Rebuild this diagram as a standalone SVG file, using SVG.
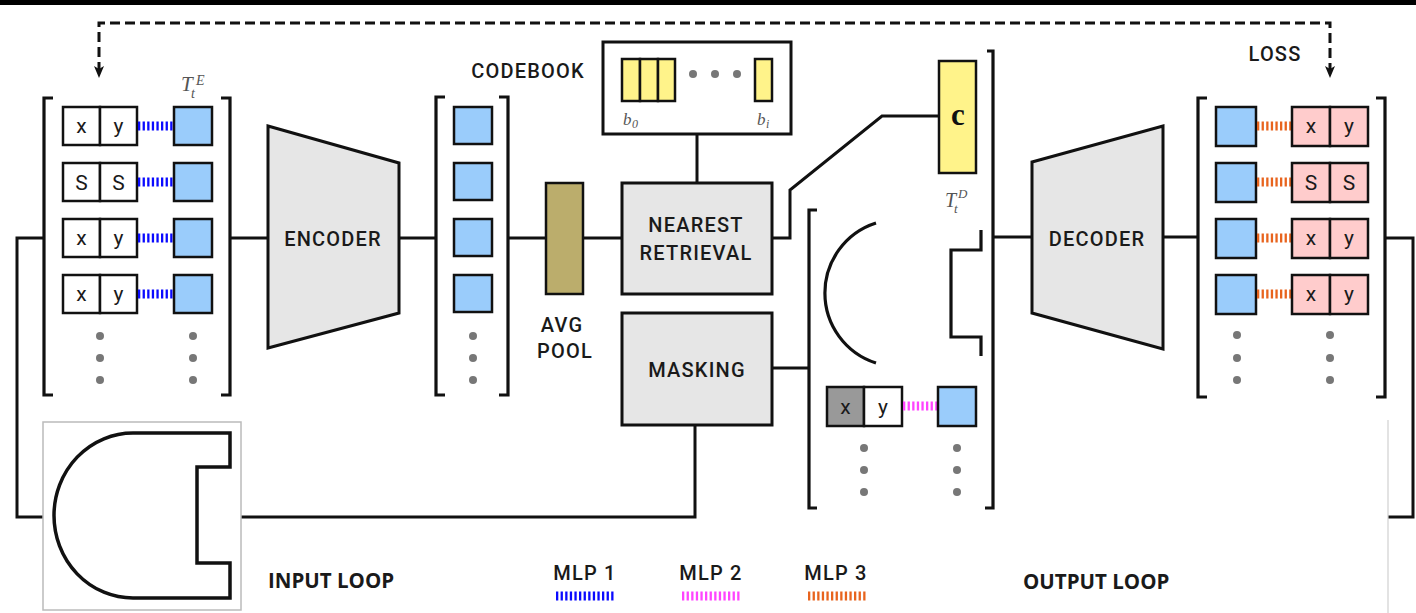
<svg xmlns="http://www.w3.org/2000/svg" width="1416" height="613" viewBox="0 0 1416 613">
<style>
.ln{fill:none;stroke:#111;stroke-width:3;stroke-linejoin:miter}
.br{fill:none;stroke:#111;stroke-width:3.2}
.blk{fill:#e6e6e6;stroke:#111;stroke-width:3}
.blue{fill:#9accfb;stroke:#111;stroke-width:2.5}
.pink{fill:#ffcccc;stroke:#111;stroke-width:2.5}
.wh{fill:#fff;stroke:#111;stroke-width:2.5}
.gr{fill:#999;stroke:#111;stroke-width:2.5}
.yel{fill:#fff38a;stroke:#111;stroke-width:2.5}
.dot{fill:#777}
.lbl{font-family:Roboto,"Liberation Sans",sans-serif;font-weight:500;font-size:20px;fill:#1a1a1a;text-anchor:middle;letter-spacing:1.2px}
.cell{font-family:Roboto,"Liberation Sans",sans-serif;font-size:21px;fill:#1a1a1a;text-anchor:middle}
.big{font-family:"Open Sans","Liberation Sans",sans-serif;font-weight:bold;font-size:20.5px;fill:#1a1a1a}
.math{font-family:"Liberation Serif",serif;font-style:italic;fill:#555}
.m1{stroke:#0a0aff;stroke-width:9;stroke-dasharray:2.3 2.3;fill:none}
.m2{stroke:#ff44ff;stroke-width:9;stroke-dasharray:2.3 2.3;fill:none}
.m3{stroke:#e8641e;stroke-width:9;stroke-dasharray:2.3 2.3;fill:none}
.dash{fill:none;stroke:#111;stroke-width:3;stroke-dasharray:10 5}
</style>
<defs>
<marker id="ah" viewBox="0 0 12 10" refX="6" refY="5" markerWidth="12" markerHeight="10" markerUnits="userSpaceOnUse" orient="auto-start-reverse">
<path d="M0,0 L12,5 L0,10 L3,5 Z" fill="#111"/>
</marker>
</defs>
<rect x="0" y="0" width="1416" height="5" fill="#000"/>

<g id="connectors">
<path class="dash" d="M99 72 V23 H1330 V72" marker-start="url(#ah)" marker-end="url(#ah)"/>
<path class="ln" d="M44 238 H17 V517 H43"/>
<path class="ln" d="M241 517 H695 V425"/>
<path class="ln" d="M230 238 H268"/>
<path class="ln" d="M399 238 H436"/>
<path class="ln" d="M508 238 H546"/>
<path class="ln" d="M583 238 H622"/>
<path class="ln" d="M697 134 V183"/>
<path class="ln" d="M772 238 H790 V190 L882 116 H939"/>
<path class="ln" d="M772 368 H809"/>
<path class="ln" d="M993 237 H1032"/>
<path class="ln" d="M1163 237 H1198"/>
<path class="ln" d="M1385 238 H1413 V517 H1388"/>
<line x1="1388" y1="420" x2="1388" y2="613" stroke="#d0d0d0" stroke-width="1.2"/>
</g>

<g id="input-tokens">
<path class="br" d="M53 98 H44 V395 H53"/>
<path class="br" d="M221 98 H230 V395 H221"/>
<g>
<rect class="wh" x="63" y="107" width="37" height="38"/><rect class="wh" x="100" y="107" width="37" height="38"/>
<text class="cell" x="81.5" y="133">x</text><text class="cell" x="118.5" y="133">y</text>
<line class="m1" x1="138" y1="126" x2="174" y2="126"/>
<rect class="blue" x="174" y="107" width="38" height="38"/>
</g>
<g>
<rect class="wh" x="63" y="163" width="37" height="38"/><rect class="wh" x="100" y="163" width="37" height="38"/>
<text class="cell" x="81.5" y="190">S</text><text class="cell" x="118.5" y="190">S</text>
<line class="m1" x1="138" y1="182" x2="174" y2="182"/>
<rect class="blue" x="174" y="163" width="38" height="38"/>
</g>
<g>
<rect class="wh" x="63" y="219" width="37" height="38"/><rect class="wh" x="100" y="219" width="37" height="38"/>
<text class="cell" x="81.5" y="245">x</text><text class="cell" x="118.5" y="245">y</text>
<line class="m1" x1="138" y1="238" x2="174" y2="238"/>
<rect class="blue" x="174" y="219" width="38" height="38"/>
</g>
<g>
<rect class="wh" x="63" y="275" width="37" height="38"/><rect class="wh" x="100" y="275" width="37" height="38"/>
<text class="cell" x="81.5" y="301">x</text><text class="cell" x="118.5" y="301">y</text>
<line class="m1" x1="138" y1="294" x2="174" y2="294"/>
<rect class="blue" x="174" y="275" width="38" height="38"/>
</g>
<circle class="dot" cx="100" cy="336" r="4"/><circle class="dot" cx="100" cy="358" r="4"/><circle class="dot" cx="100" cy="380" r="4"/>
<circle class="dot" cx="193" cy="336" r="4"/><circle class="dot" cx="193" cy="358" r="4"/><circle class="dot" cx="193" cy="380" r="4"/>
<text class="math" x="181" y="91" font-size="21">T</text>
<text class="math" x="196" y="85" font-size="14">E</text>
<text class="math" x="191" y="98" font-size="14">t</text>
</g>

<g id="input-loop">
<rect x="43" y="422" width="198" height="188" fill="#fff" stroke="#bbb" stroke-width="1.5"/>
<path d="M133 433 H230 V467 H197 V563 H230 V598 H133 A79 82.5 0 0 1 133 433 Z" fill="none" stroke="#111" stroke-width="3.5"/>
</g>

<g id="encoder">
<path class="blk" d="M268 126 L399 163 L399 313 L268 348 Z"/>
<text class="lbl" x="333" y="246">ENCODER</text>
</g>

<g id="encoded-tokens">
<path class="br" d="M445 97 H436 V395 H445"/>
<path class="br" d="M499 97 H508 V395 H499"/>
<rect class="blue" x="454" y="107" width="38" height="37"/>
<rect class="blue" x="454" y="163" width="38" height="37"/>
<rect class="blue" x="454" y="219" width="38" height="37"/>
<rect class="blue" x="454" y="275" width="38" height="37"/>
<circle class="dot" cx="473" cy="336" r="4"/><circle class="dot" cx="473" cy="358" r="4"/><circle class="dot" cx="473" cy="380" r="4"/>
</g>

<g id="avg-pool">
<rect x="546" y="183" width="37" height="111" fill="#bbad6c" stroke="#111" stroke-width="2.5"/>
<text class="lbl" x="562" y="332" letter-spacing="0.5">AVG</text>
<text class="lbl" x="565" y="358" letter-spacing="0.5">POOL</text>
</g>

<g id="codebook">
<rect x="603" y="42" width="188" height="92" fill="#fff" stroke="#111" stroke-width="3"/>
<rect class="yel" x="622" y="59" width="18" height="42"/>
<rect class="yel" x="640" y="59" width="18" height="42"/>
<rect class="yel" x="658" y="59" width="17" height="42"/>
<circle class="dot" cx="693" cy="74" r="4"/><circle class="dot" cx="715" cy="74" r="4"/><circle class="dot" cx="737" cy="74" r="4"/>
<rect class="yel" x="755" y="59" width="17" height="42"/>
<text class="math" x="623" y="125" font-size="17">b</text><text class="math" x="632" y="128" font-size="12">0</text>
<text class="math" x="757" y="125" font-size="17">b</text><text class="math" x="766" y="128" font-size="12">i</text>
<text class="lbl" x="528" y="78" letter-spacing="0.8">CODEBOOK</text>
</g>

<g id="nearest-retrieval">
<rect class="blk" x="622" y="183" width="150" height="111"/>
<text class="lbl" x="696" y="232">NEAREST</text>
<text class="lbl" x="696" y="260">RETRIEVAL</text>
</g>

<g id="masking">
<rect class="blk" x="622" y="313" width="150" height="112"/>
<text class="lbl" x="697" y="377">MASKING</text>
</g>

<g id="code-token">
<rect class="yel" x="939" y="61" width="37" height="112"/>
<text x="958" y="125" font-family="'Liberation Serif',serif" font-weight="bold" font-size="31" text-anchor="middle" fill="#111">c</text>
<text class="math" x="945" y="207" font-size="20" fill="#777">T</text>
<text class="math" x="958" y="198" font-size="13" fill="#777">D</text>
<text class="math" x="954" y="213" font-size="13" fill="#777">t</text>
</g>

<g id="masked-tokens">
<path class="br" d="M817 210 H809 V508 H817"/>
<path class="br" d="M987 51 H993 V508 H985"/>
<path d="M876 223 A73.5 73.5 0 0 0 876 363" fill="none" stroke="#111" stroke-width="3.2"/>
<path d="M981 230 V250 H951 V337 H981 V356" fill="none" stroke="#111" stroke-width="3.2"/>
<rect class="gr" x="827" y="387" width="37" height="39"/><rect class="wh" x="864" y="387" width="38" height="39"/>
<text class="cell" x="845.5" y="414">x</text><text class="cell" x="883" y="414">y</text>
<line class="m2" x1="903" y1="406" x2="938" y2="406"/>
<rect class="blue" x="938" y="387" width="38" height="39"/>
<circle class="dot" cx="864" cy="448" r="4"/><circle class="dot" cx="864" cy="470" r="4"/><circle class="dot" cx="864" cy="492" r="4"/>
<circle class="dot" cx="957" cy="448" r="4"/><circle class="dot" cx="957" cy="470" r="4"/><circle class="dot" cx="957" cy="492" r="4"/>
</g>

<g id="decoder">
<path class="blk" d="M1032 162 L1163 126 L1163 349 L1032 313 Z"/>
<text class="lbl" x="1097" y="246">DECODER</text>
</g>

<g id="output-tokens">
<path class="br" d="M1207 98 H1198 V397 H1207"/>
<path class="br" d="M1376 98 H1385 V397 H1376"/>
<g>
<rect class="blue" x="1216" y="107" width="40" height="39"/>
<line class="m3" x1="1257" y1="126" x2="1292" y2="126"/>
<rect class="pink" x="1292" y="107" width="38" height="39"/><rect class="pink" x="1330" y="107" width="38" height="39"/>
<text class="cell" x="1311" y="133">x</text><text class="cell" x="1349" y="133">y</text>
</g>
<g>
<rect class="blue" x="1216" y="163" width="40" height="39"/>
<line class="m3" x1="1257" y1="182" x2="1292" y2="182"/>
<rect class="pink" x="1292" y="163" width="38" height="39"/><rect class="pink" x="1330" y="163" width="38" height="39"/>
<text class="cell" x="1311" y="190">S</text><text class="cell" x="1349" y="190">S</text>
</g>
<g>
<rect class="blue" x="1216" y="219" width="40" height="39"/>
<line class="m3" x1="1257" y1="238" x2="1292" y2="238"/>
<rect class="pink" x="1292" y="219" width="38" height="39"/><rect class="pink" x="1330" y="219" width="38" height="39"/>
<text class="cell" x="1311" y="245">x</text><text class="cell" x="1349" y="245">y</text>
</g>
<g>
<rect class="blue" x="1216" y="275" width="40" height="39"/>
<line class="m3" x1="1257" y1="294" x2="1292" y2="294"/>
<rect class="pink" x="1292" y="275" width="38" height="39"/><rect class="pink" x="1330" y="275" width="38" height="39"/>
<text class="cell" x="1311" y="301">x</text><text class="cell" x="1349" y="301">y</text>
</g>
<circle class="dot" cx="1237" cy="335" r="4"/><circle class="dot" cx="1237" cy="358" r="4"/><circle class="dot" cx="1237" cy="380" r="4"/>
<circle class="dot" cx="1330" cy="335" r="4"/><circle class="dot" cx="1330" cy="358" r="4"/><circle class="dot" cx="1330" cy="380" r="4"/>
<text class="lbl" x="1275" y="61" letter-spacing="0.5">LOSS</text>
</g>

<g id="legend">
<text class="big" x="268" y="588">INPUT LOOP</text>
<text class="big" x="1023" y="589">OUTPUT LOOP</text>
<text class="lbl" x="585" y="580" letter-spacing="0.3">MLP 1</text>
<text class="lbl" x="711" y="580" letter-spacing="0.3">MLP 2</text>
<text class="lbl" x="836" y="580" letter-spacing="0.3">MLP 3</text>
<line class="m1" x1="556" y1="596" x2="615" y2="596" stroke-width="10"/>
<line class="m2" x1="682" y1="596" x2="741" y2="596" stroke-width="10"/>
<line class="m3" x1="808" y1="596" x2="866" y2="596" stroke-width="10"/>
</g>
</svg>
